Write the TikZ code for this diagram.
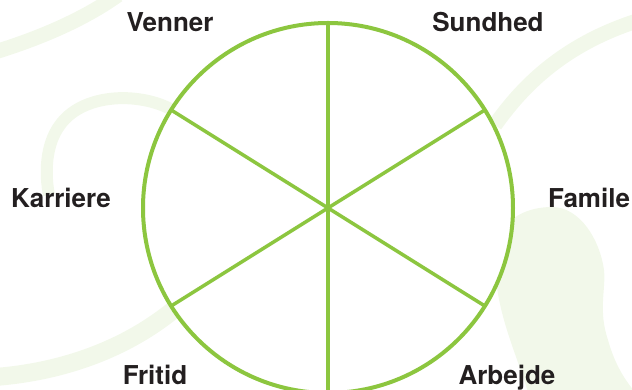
\documentclass[tikz,border=0pt]{standalone}
\usepackage{fontspec}
\setmainfont{TeX Gyre Heros}
\usepackage{xcolor}
\definecolor{ringgreen}{HTML}{8CC63F}
\definecolor{paleleaf}{HTML}{F2F8EA}
\definecolor{inkblack}{HTML}{231F20}
\usetikzlibrary{positioning}

\begin{document}
\begin{tikzpicture}[
        x=1pt, y=1pt,
        wheel/.style={
            circle,
            draw=ringgreen,
            fill=white,
            line width=4pt,
            minimum size=370pt,
            inner sep=0pt,
            outer sep=0pt
        },
        spoke/.style={
            draw=ringgreen,
            line width=3.5pt
        },
        area/.style={
            anchor=base,
            text=inkblack,
            font=\fontsize{26}{30}\selectfont\bfseries,
            inner sep=0pt
        },
        swirl/.style={
            draw=paleleaf,
            line width=15pt
        }
    ]

    \useasboundingbox (0,0) rectangle (632,390);

    % faint background leaves
    \draw[swirl] (-5,338) .. controls (50,355) and (90,375) .. (118,395);
    \draw[swirl, line width=12pt] (180,275) .. controls (150,298) and (85,300) .. (60,265)
        .. controls (45,245) and (45,215) .. (49,195);
    \draw[swirl, line width=18pt] (-5,13) .. controls (60,18) and (130,40) .. (185,90);
    \draw[swirl] (495,265) .. controls (520,300) and (560,345) .. (640,370);
    \fill[paleleaf] (528,-2) .. controls (515,40) and (495,80) .. (495,130)
        .. controls (495,170) and (525,183) .. (552,183)
        .. controls (580,183) and (600,150) .. (604,120)
        .. controls (606,100) and (598,80) .. (608,50)
        .. controls (615,25) and (625,10) .. (635,-2) -- cycle;

    \node[wheel] (wheel) at (328,182) {};
    \coordinate (hub) at (wheel.center);

    \draw[spoke] (hub) -- (wheel.90);
    \draw[spoke] (hub) -- (wheel.32);
    \draw[spoke] (hub) -- (wheel.-32);
    \draw[spoke] (hub) -- (wheel.-90);
    \draw[spoke] (hub) -- (wheel.212);
    \draw[spoke] (hub) -- (wheel.148);

    \node[area] (venner) at (170,358) {Venner};
    \node[area] (sundhed) at (488,358) {Sundhed};
    \node[area] (karriere) at (61,182) {Karriere};
    \node[area] (famile) at (589,182) {Famile};
    \node[area] (fritid) at (155,5) {Fritid};
    \node[area] (arbejde) at (507,5) {Arbejde};

\end{tikzpicture}
\end{document}
